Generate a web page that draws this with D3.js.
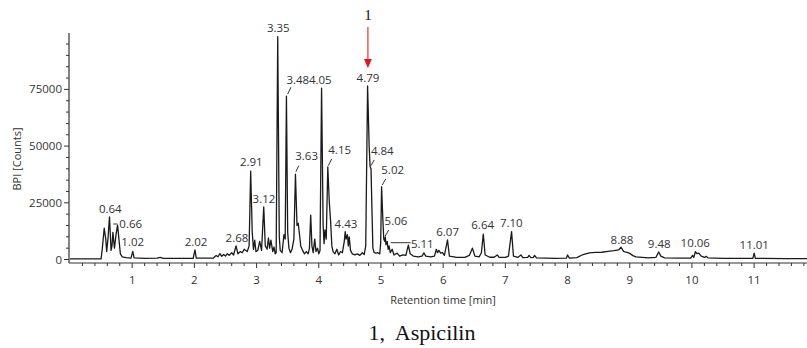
<!DOCTYPE html>
<html>
<head>
<meta charset="utf-8">
<script src="https://cdn.jsdelivr.net/npm/d3@7"></script>
<style>
  body { margin: 0; background: #fff; }
  svg { display: block; }
</style>
</head>
<body>
<svg width="807" height="348"></svg>
<script>
// retention time (min) and BPI counts
const traceTime = [
  0.00, 0.50, 0.52, 0.55, 0.575, 0.59, 0.61, 0.635, 0.645, 0.66, 0.675, 0.69, 0.70, 0.715, 0.74, 0.765, 0.79, 0.81, 0.84,
  0.90, 0.98, 1.01, 1.03, 1.20, 1.40, 1.45, 1.50, 1.98, 2.01, 2.03, 2.30, 2.35, 2.38, 2.41, 2.44, 2.47, 2.50, 2.53, 2.56,
  2.60, 2.63, 2.67, 2.70, 2.74, 2.77, 2.80, 2.85, 2.88, 2.905, 2.93, 2.95, 2.97, 2.99, 3.02, 3.05, 3.08, 3.115, 3.14,
  3.17, 3.19, 3.21, 3.23, 3.26, 3.28, 3.30, 3.315, 3.34, 3.365, 3.38, 3.41, 3.44, 3.46, 3.48, 3.50, 3.52, 3.545, 3.57,
  3.60, 3.625, 3.65, 3.67, 3.69, 3.71, 3.74, 3.77, 3.80, 3.83, 3.85, 3.87, 3.89, 3.91, 3.935, 3.955, 3.98, 4.00, 4.02,
  4.045, 4.07, 4.085, 4.10, 4.12, 4.145, 4.17, 4.19, 4.21, 4.23, 4.26, 4.29, 4.32, 4.35, 4.38, 4.41, 4.425, 4.44, 4.46,
  4.475, 4.49, 4.51, 4.54, 4.58, 4.62, 4.66, 4.70, 4.73, 4.755, 4.785, 4.81, 4.825, 4.84, 4.855, 4.87, 4.89, 4.92, 4.95,
  4.98, 4.995, 5.01, 5.03, 5.045, 5.06, 5.07, 5.08, 5.10, 5.115, 5.13, 5.15, 5.18, 5.21, 5.26, 5.30, 5.35, 5.40, 5.44,
  5.47, 5.52, 5.60, 5.66, 5.69, 5.72, 5.80, 5.86, 5.89, 5.91, 5.93, 5.96, 5.99, 6.02, 6.07, 6.10, 6.20, 6.35, 6.42, 6.47,
  6.51, 6.58, 6.615, 6.645, 6.675, 6.75, 6.82, 6.87, 6.90, 7.00, 7.05, 7.10, 7.13, 7.20, 7.25, 7.28, 7.36, 7.38, 7.41,
  7.45, 7.47, 7.50, 7.80, 7.98, 8.00, 8.03, 8.15, 8.25, 8.35, 8.45, 8.55, 8.65, 8.75, 8.82, 8.86, 8.90, 8.94, 8.97, 9.00,
  9.05, 9.10, 9.30, 9.42, 9.465, 9.50, 9.56, 9.80, 9.98, 10.01, 10.03, 10.055, 10.08, 10.11, 10.15, 10.20, 10.23, 10.26,
  10.50, 10.98, 11.00, 11.02, 11.50, 11.85
];
const traceCounts = [
  300, 300, 5000, 13800, 9000, 3500, 9000, 18800, 13000, 4000, 6000, 12000, 9000, 5000, 11000, 15200, 8000, 2500, 1200,
  800, 600, 3600, 700, 500, 600, 900, 500, 500, 4200, 600, 600, 1800, 1200, 2600, 1400, 2200, 1500, 2600, 1800,
  3000, 2000, 6000, 2500, 3500, 3000, 4500, 3500, 6000, 39000, 12000, 4500, 8500, 3500, 4000, 8000, 4000, 23200, 6000,
  4500, 9500, 5000, 8500, 3500, 5500, 2500, 3000, 98300, 10000, 4000, 3000, 11000, 9000, 72000, 12000, 5000, 3000, 4500,
  9000, 37600, 15000, 16000, 11000, 6000, 4000, 2500, 3500, 2500, 5000, 19600, 6000, 3000, 9000, 3500, 5000, 2500, 4000,
  75500, 15000, 7000, 13000, 9000, 40800, 25000, 17000, 6000, 3500, 2500, 4500, 2000, 3500, 3000, 8000, 12300, 9000, 11000,
  6000, 10000, 4000, 2500, 2000, 2500, 1800, 3000, 2200, 6000, 76500, 50000, 41000, 40000, 22000, 5000, 3000, 2800, 3000,
  2500, 7000, 32100, 18000, 9000, 8000, 10000, 6500, 8000, 4500, 6000, 3000, 4500, 2000, 2800, 1500, 2000, 1800, 6300,
  2500, 1500, 1200, 1500, 2900, 1500, 1200, 1500, 4500, 3000, 4000, 2800, 3000, 1800, 8600, 1500, 1000, 900, 1800, 5000,
  1500, 1200, 3000, 11200, 2000, 1000, 1000, 2000, 900, 900, 1500, 12300, 1500, 900, 2000, 800, 900, 1800, 800,
  900, 1800, 700, 500, 600, 2000, 600, 800, 2200, 2900, 3100, 3200, 3600, 3900, 4200, 5400, 3600, 3200, 3000, 2700,
  1700, 1200, 700, 900, 3300, 1500, 700, 600, 600, 1800, 900, 3500, 2600, 2800, 1500, 900, 1400, 700,
  500, 500, 2800, 500, 400, 400
];

// peak annotations: text and where the text sits (time, counts)
const peakLabels = ["0.64", "0.66", "1.02", "2.02", "2.68", "2.91", "3.12", "3.35", "3.48", "4.05", "3.63", "4.15",
  "4.43", "4.79", "4.84", "5.02", "5.06", "5.11", "6.07", "6.64", "7.10", "8.88", "9.48", "10.06", "11.01"];
const labelTime = [0.648, 0.976, 1.008, 2.026, 2.685, 2.915, 3.119, 3.349, 3.662, 4.024, 3.805, 4.336,
  4.437, 4.791, 5.021, 5.188, 5.241, 5.664, 6.072, 6.635, 7.095, 8.875, 9.474, 10.053, 11.002];
const labelCounts = [20720, 13890, 5950, 5950, 7720, 41230, 24910, 100090, 77380, 77380, 43870, 46520,
  13670, 78480, 46080, 37700, 15210, 5290, 10360, 13450, 14110, 7050, 5290, 5510, 4850];

// leader strokes from peak to label: [t1, counts1, t2, counts2]
const leaders = [
  [0.696, 15650, 0.760, 15650],
  [3.500, 72970, 3.553, 75930],
  [3.633, 38710, 3.677, 41360],
  [4.153, 41360, 4.207, 44310],
  [4.839, 41360, 4.892, 43870],
  [5.021, 32850, 5.076, 35490],
  [5.069, 10360, 5.124, 13010],
  [5.156, 7410, 5.477, 7410]
];

const yTickValues = [0, 25000, 50000, 75000];
const xTickValues = [1, 2, 3, 4, 5, 6, 7, 8, 9, 10, 11];
const markedTime = 4.79; // compound 1

const svg = d3.select("svg");
const tickFont = "'Open Sans', sans-serif";

const x = d3.scaleLinear().domain([0, 11.85]).range([70, 807]);
const y = d3.scaleLinear().domain([0, 100000]).range([259.5, 32.7]);
const axisY = 263;

// y axis
const yAxis = svg.append("g").attr("transform", "translate(69,0)");
yAxis.append("line").attr("x1", 0).attr("x2", 0).attr("y1", 33).attr("y2", axisY)
  .attr("stroke", "#333").attr("stroke-width", 1.2);
yAxis.selectAll("line.minor")
  .data(d3.range(0, 100000, 5000))
  .enter().append("line").attr("class", "minor")
  .attr("x1", (d) => (d % 25000 === 0 ? -5 : -3)).attr("x2", 0)
  .attr("y1", (d) => y(d)).attr("y2", (d) => y(d))
  .attr("stroke", "#333");
yAxis.selectAll("text")
  .data(yTickValues)
  .enter().append("text")
  .attr("x", -7).attr("y", (d) => y(d) + 4)
  .attr("text-anchor", "end")
  .style("font", "11.5px " + tickFont).style("fill", "#333")
  .text((d) => d);

// x axis
const xAxis = svg.append("g").attr("transform", "translate(0," + axisY + ")");
xAxis.append("line").attr("x1", 69).attr("x2", 807).attr("y1", 0).attr("y2", 0)
  .attr("stroke", "#333").attr("stroke-width", 1.2);
xAxis.selectAll("line.minor")
  .data(d3.range(1, 60).map((i) => i * 0.2))
  .enter().append("line").attr("class", "minor")
  .attr("x1", (d) => x(d)).attr("x2", (d) => x(d))
  .attr("y1", 0).attr("y2", (d) => (Math.abs(d - Math.round(d)) < 0.01 ? 5 : 3))
  .attr("stroke", "#333");
xAxis.selectAll("text")
  .data(xTickValues)
  .enter().append("text")
  .attr("x", (d) => x(d)).attr("y", 21)
  .attr("text-anchor", "middle")
  .style("font", "11.5px " + tickFont).style("fill", "#333")
  .text((d) => d);

svg.append("text")
  .attr("x", 443).attr("y", 304)
  .attr("text-anchor", "middle")
  .style("font", "11px " + tickFont).style("fill", "#333")
  .text("Retention time [min]");
svg.append("text")
  .attr("transform", "translate(21,159) rotate(-90)")
  .attr("text-anchor", "middle")
  .style("font", "11px " + tickFont).style("fill", "#333")
  .text("BPI [Counts]");

// chromatogram trace
const pts = traceTime.map((t, i) => [t, traceCounts[i]]);
svg.append("path")
  .datum(pts)
  .attr("fill", "none")
  .attr("stroke", "#1a1a1a")
  .attr("stroke-width", 1.3)
  .attr("stroke-linejoin", "round")
  .attr("d", d3.line().x((d) => x(d[0])).y((d) => y(d[1])));

// leaders and peak labels
svg.selectAll("line.leader")
  .data(leaders)
  .enter().append("line").attr("class", "leader")
  .attr("x1", (d) => x(d[0])).attr("y1", (d) => y(d[1]))
  .attr("x2", (d) => x(d[2])).attr("y2", (d) => y(d[3]))
  .attr("stroke", "#333");
svg.selectAll("text.peak")
  .data(peakLabels)
  .enter().append("text").attr("class", "peak")
  .attr("x", (d, i) => x(labelTime[i]))
  .attr("y", (d, i) => y(labelCounts[i]))
  .attr("text-anchor", "middle")
  .style("font", "11.5px " + tickFont).style("fill", "#333")
  .text((d) => d);

// red arrow marking compound 1
const ax = x(markedTime);
svg.append("line")
  .attr("x1", ax).attr("x2", ax).attr("y1", 27).attr("y2", 60)
  .attr("stroke", "#e8302a").attr("stroke-width", 1.2);
svg.append("path")
  .attr("d", `M${ax - 4},59 L${ax + 4},59 L${ax},68 Z`)
  .attr("fill", "#e8141c");
svg.append("text")
  .attr("x", ax).attr("y", 20)
  .attr("text-anchor", "middle")
  .style("font", "15px 'Liberation Serif', serif").style("fill", "#111")
  .text("1");

// caption
svg.append("text")
  .attr("x", 422).attr("y", 340)
  .attr("text-anchor", "middle")
  .style("font", "22px 'Liberation Serif', serif").style("fill", "#111")
  .style("white-space", "pre")
  .text("1,  Aspicilin");
</script>
</body>
</html>
